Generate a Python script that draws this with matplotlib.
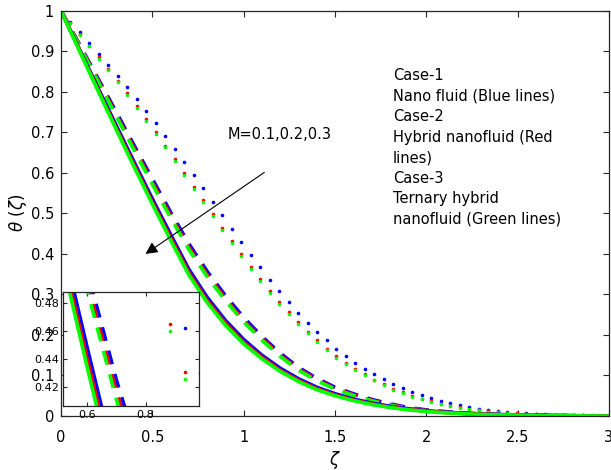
import numpy as np
import matplotlib
matplotlib.use('Agg')
import matplotlib.pyplot as plt

plt.rcParams['font.family'] = ['DejaVu Sans']
plt.rcParams['mathtext.fontset'] = 'dejavusans'

# grille des courbes continues / pointillées
zeta = np.linspace(0, 3, 31)
zeta_dot = np.arange(58) * 0.052

# M = 0.3 : traits pleins
solid_blue = [1.000, 0.906, 0.812, 0.719, 0.627, 0.536, 0.448, 0.362, 0.293, 0.236, 0.189,
              0.150, 0.118, 0.092, 0.071, 0.055, 0.042, 0.032, 0.024, 0.018, 0.013,
              0.0095, 0.007, 0.005, 0.0036, 0.0026, 0.0018, 0.0012, 0.0008, 0.0004, 0.0]
solid_red = [1.000, 0.904, 0.808, 0.713, 0.620, 0.528, 0.440, 0.354, 0.285, 0.229, 0.182,
             0.145, 0.113, 0.088, 0.0675, 0.052, 0.0395, 0.030, 0.022, 0.0165, 0.012,
             0.0086, 0.0063, 0.0044, 0.0031, 0.0022, 0.0015, 0.0010, 0.0006, 0.0003, 0.0]
solid_green = [1.000, 0.902, 0.805, 0.709, 0.615, 0.523, 0.434, 0.348, 0.280, 0.224, 0.178,
               0.141, 0.110, 0.085, 0.065, 0.050, 0.038, 0.0285, 0.021, 0.0155, 0.011,
               0.008, 0.0058, 0.004, 0.0028, 0.002, 0.0013, 0.0008, 0.0005, 0.0002, 0.0]

# M = 0.2 : tirets
dash_blue = [1.000, 0.918, 0.835, 0.752, 0.668, 0.585, 0.503, 0.425, 0.357, 0.297, 0.243,
             0.196, 0.155, 0.120, 0.093, 0.071, 0.055, 0.041, 0.030, 0.021, 0.015,
             0.011, 0.0075, 0.005, 0.0035, 0.0025, 0.0017, 0.001, 0.0006, 0.0003, 0.0]
dash_red = [1.000, 0.916, 0.831, 0.746, 0.661, 0.577, 0.495, 0.417, 0.349, 0.290, 0.236,
            0.191, 0.150, 0.116, 0.0895, 0.068, 0.0525, 0.039, 0.028, 0.0195, 0.014,
            0.010, 0.0068, 0.0044, 0.003, 0.0021, 0.0014, 0.0008, 0.0004, 0.0002, 0.0]
dash_green = [1.000, 0.914, 0.828, 0.742, 0.656, 0.572, 0.489, 0.411, 0.344, 0.285, 0.232,
              0.187, 0.147, 0.113, 0.087, 0.066, 0.051, 0.0375, 0.027, 0.0185, 0.013,
              0.0095, 0.0063, 0.004, 0.0027, 0.0019, 0.0012, 0.0006, 0.0003, 0.0001, 0.0]

# M = 0.1 : points
dot_blue = [1.000, 0.972, 0.947, 0.920, 0.893, 0.867, 0.840, 0.812, 0.782, 0.752,
            0.722, 0.691, 0.659, 0.626, 0.594, 0.562, 0.528, 0.495, 0.462, 0.430,
            0.3975, 0.367, 0.3365, 0.308, 0.281, 0.255, 0.230, 0.208, 0.187, 0.166,
            0.148, 0.131, 0.117, 0.104, 0.091, 0.079, 0.068, 0.059, 0.051, 0.044,
            0.037, 0.031, 0.026, 0.022, 0.018, 0.015, 0.012, 0.010, 0.008, 0.0065,
            0.0055, 0.0045, 0.0035, 0.003, 0.0025, 0.002, 0.0015, 0.001]
dot_red = [1.000, 0.970, 0.942, 0.914, 0.885, 0.856, 0.826, 0.796, 0.765, 0.733,
           0.700, 0.667, 0.634, 0.600, 0.566, 0.532, 0.498, 0.465, 0.431, 0.399,
           0.368, 0.338, 0.309, 0.281, 0.256, 0.231, 0.208, 0.187, 0.166, 0.147,
           0.131, 0.117, 0.103, 0.090, 0.078, 0.067, 0.058, 0.050, 0.042, 0.036,
           0.030, 0.025, 0.021, 0.018, 0.015, 0.012, 0.010, 0.008, 0.0065, 0.005,
           0.004, 0.0035, 0.003, 0.0025, 0.002, 0.0015, 0.001, 0.0008]
dot_green = [1.000, 0.969, 0.940, 0.912, 0.882, 0.853, 0.823, 0.792, 0.761, 0.729,
             0.696, 0.663, 0.629, 0.595, 0.561, 0.527, 0.493, 0.460, 0.426, 0.394,
             0.363, 0.333, 0.304, 0.277, 0.252, 0.227, 0.204, 0.183, 0.163, 0.144,
             0.128, 0.114, 0.100, 0.088, 0.076, 0.065, 0.056, 0.048, 0.041, 0.035,
             0.029, 0.024, 0.020, 0.017, 0.014, 0.011, 0.009, 0.0075, 0.006, 0.005,
             0.004, 0.003, 0.0025, 0.002, 0.0018, 0.0014, 0.001, 0.0007]

colors = ['#0000ff', '#ff0000', '#00ff00']
solid = [solid_blue, solid_red, solid_green]
dashed = [dash_blue, dash_red, dash_green]
dotted = [dot_blue, dot_red, dot_green]

case_text = ("Case-1\nNano fluid (Blue lines)\nCase-2\nHybrid nanofluid (Red\nlines)\n"
             "Case-3\nTernary hybrid\nnanofluid (Green lines)")

LW = 2.6


def draw_curves(ax):
    for c, y in zip(colors, dotted):
        ax.plot(zeta_dot, y, linestyle='none', marker='o', ms=2.6, mew=0, color=c)
    for c, y in zip(colors, dashed):
        ax.plot(zeta, y, color=c, lw=LW, dashes=(3.9, 2.8))
    for c, y in zip(colors, solid):
        ax.plot(zeta, y, color=c, lw=LW, solid_capstyle='butt')


def style_box(ax, size, length):
    ax.tick_params(direction='in', top=True, right=True, length=length,
                   width=0.8, labelsize=size, colors='#262626', labelcolor='black')
    for s in ax.spines.values():
        s.set_color('#262626')
        s.set_linewidth(0.9)


fig = plt.figure(figsize=(6.11, 4.70), dpi=100)
ax = fig.add_axes([0.0998, 0.1149, 0.8969, 0.8623])
draw_curves(ax)
ax.set_xlim(0, 3)
ax.set_ylim(0, 1)
ax.set_xticks([0, 0.5, 1, 1.5, 2, 2.5, 3])
ax.set_xticklabels(['0', '0.5', '1', '1.5', '2', '2.5', '3'])
ax.set_yticks(np.arange(0, 1.01, 0.1))
ax.set_yticklabels(['0', '0.1', '0.2', '0.3', '0.4', '0.5', '0.6', '0.7', '0.8', '0.9', '1'])
style_box(ax, 10.5, 4)
ax.tick_params(axis='x', pad=10)
ax.tick_params(axis='y', pad=5)
ax.set_xlabel(r'$\zeta$', fontsize=12, labelpad=3)
ax.set_ylabel(r'$\theta\ (\zeta)$', fontsize=12, labelpad=1)

ax.text(1.816, 0.858, case_text, ha='left', va='top', fontsize=10.5, linespacing=1.46)
ax.text(0.91, 0.694, 'M=0.1,0.2,0.3', ha='left', va='center', fontsize=10.5)
ax.annotate('', xy=(0.45, 0.396), xytext=(1.126, 0.605),
            arrowprops=dict(arrowstyle='-|>', color='black', lw=0.8, mutation_scale=18))

# zoom
axin = fig.add_axes([0.1036, 0.1362, 0.2216, 0.2432])
draw_curves(axin)
axin.set_xlim(0.5177, 0.982)
axin.set_ylim(0.4066, 0.4883)
axin.set_xticks([0.6, 0.8])
axin.set_xticklabels(['0.6', '0.8'])
axin.set_yticks([0.42, 0.44, 0.46, 0.48])
axin.set_yticklabels(['0.42', '0.44', '0.46', '0.48'])
style_box(axin, 8, 3)
axin.tick_params(axis='x', pad=3)
axin.tick_params(axis='y', pad=3)

fig.savefig('out.png', dpi=100)
